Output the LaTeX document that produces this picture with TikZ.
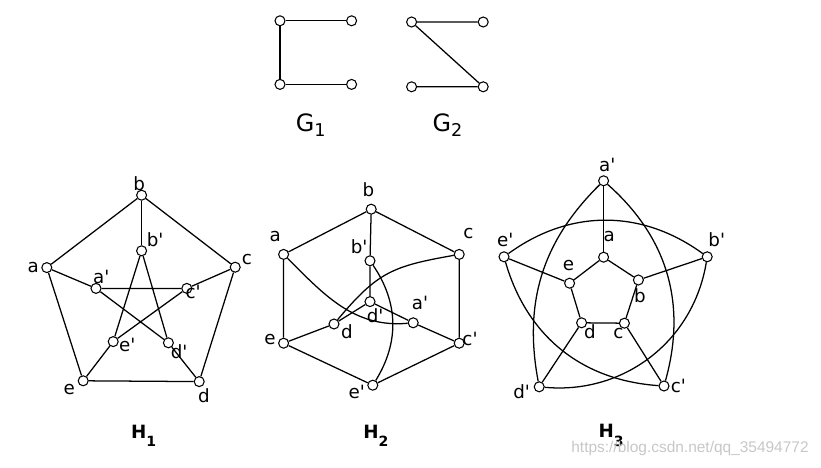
\documentclass[tikz,border=0pt]{standalone}
\usepackage{fontspec}
\setmainfont{DejaVu Sans}[Ligatures=TeXOff]
\newfontfamily\marcafont{Liberation Sans}

\begin{document}
\begin{tikzpicture}[line width=0.9pt,
  v/.style={circle,draw,fill=white,inner sep=0pt,minimum size=2.5mm,line width=0.75pt},
  lbl/.style={inner sep=0pt,font=\fontsize{13}{15}\selectfont},
  titg/.style={inner sep=0pt,anchor=base west,font=\fontsize{17}{20}\selectfont},
  tith/.style={inner sep=0pt,anchor=base west,font=\bfseries\fontsize{13}{15}\selectfont}]
  \useasboundingbox (0,0) rectangle (20.525,-11.7);
  % G1
  \node[v] (p1) at (7.00,-0.52) {};
  \node[v] (p2) at (8.79,-0.52) {};
  \node[v] (p3) at (7.00,-2.11) {};
  \node[v] (p4) at (8.79,-2.11) {};
  \draw (p2)--(p1)--(p3)--(p4);
  \node[titg] (g1) at (7.38,-3.29) {G\raisebox{-3.5pt}{\fontsize{12.5}{14}\selectfont 1}};
  % G2
  \node[v] (q1) at (10.29,-0.55) {};
  \node[v] (q2) at (12.08,-0.55) {};
  \node[v] (q3) at (10.29,-2.17) {};
  \node[v] (q4) at (12.08,-2.17) {};
  \draw (q2)--(q1)--(q4)--(q3);
  \node[titg] (g2) at (10.80,-3.29) {G\raisebox{-3.5pt}{\fontsize{12.5}{14}\selectfont 2}};
  % H1
  \node[v] (h1a) at (1.17,-6.69) {};
  \node[v] (h1b) at (3.54,-4.88) {};
  \node[v] (h1c) at (5.88,-6.68) {};
  \node[v] (h1d) at (4.98,-9.54) {};
  \node[v] (h1e) at (2.08,-9.52) {};
  \node[v] (h1ap) at (2.40,-7.21) {};
  \node[v] (h1bp) at (3.54,-6.27) {};
  \node[v] (h1cp) at (4.67,-7.21) {};
  \node[v] (h1dp) at (4.21,-8.57) {};
  \node[v] (h1ep) at (2.83,-8.54) {};
  \draw (h1a)--(h1b)--(h1c)--(h1d)--(h1e)--(h1a);
  \foreach \x in {a,...,e} \draw (h1\x)--(h1\x p);
  \draw (h1ap)--(h1cp)--(h1ep)--(h1bp)--(h1dp)--(h1ap);
  \node[lbl] (h1la) at (0.83,-6.68) {a};
  \node[lbl] (h1lb) at (3.48,-4.60) {b};
  \node[lbl] (h1lc) at (6.17,-6.48) {c};
  \node[lbl] (h1ld) at (5.10,-9.88) {d};
  \node[lbl] (h1le) at (1.73,-9.75) {e};
  \node[lbl] (h1lap) at (2.53,-6.92) {a'};
  \node[lbl] (h1lbp) at (3.88,-6.00) {b'};
  \node[lbl] (h1lcp) at (4.83,-7.29) {c'};
  \node[lbl] (h1ldp) at (4.48,-8.79) {d'};
  \node[lbl] (h1lep) at (3.18,-8.63) {e'};
  \node[tith] (t1) at (3.26,-10.96) {H\raisebox{-6pt}{\fontsize{10}{12}\selectfont 1}};
  % H2
  \node[v] (h2a) at (7.09,-6.36) {};
  \node[v] (h2b) at (9.28,-5.23) {};
  \node[v] (h2c) at (11.48,-6.36) {};
  \node[v] (h2d) at (8.35,-8.10) {};
  \node[v] (h2e) at (7.09,-8.58) {};
  \node[v] (h2ap) at (10.33,-8.07) {};
  \node[v] (h2bp) at (9.25,-6.52) {};
  \node[v] (h2cp) at (11.48,-8.58) {};
  \node[v] (h2dp) at (9.25,-7.54) {};
  \node[v] (h2ep) at (9.32,-9.63) {};
  \draw (h2a)--(h2b)--(h2c)--(h2cp)--(h2ep)--(h2e)--(h2a);
  \draw (h2b)--(h2bp)--(h2dp)--(h2d)--(h2e);
  \draw (h2dp)--(h2ap)--(h2cp);
  \draw (h2a) to[out=-45,in=185] (h2ap);
  \draw (h2c) to[out=190,in=50,looseness=1.2] (h2d);
  \draw (h2ep) to[bend right=33] (h2bp);
  \node[lbl] (h2la) at (6.88,-5.92) {a};
  \node[lbl] (h2lb) at (9.21,-4.75) {b};
  \node[lbl] (h2lc) at (11.71,-5.83) {c};
  \node[lbl] (h2ld) at (8.67,-8.29) {d};
  \node[lbl] (h2le) at (6.75,-8.50) {e};
  \node[lbl] (h2lap) at (10.50,-7.58) {a'};
  \node[lbl] (h2lbp) at (8.98,-6.17) {b'};
  \node[lbl] (h2lcp) at (11.75,-8.48) {c'};
  \node[lbl] (h2ldp) at (9.38,-7.88) {d'};
  \node[lbl] (h2lep) at (8.92,-9.79) {e'};
  \node[tith] (t2) at (9.07,-10.96) {H\raisebox{-6pt}{\fontsize{10}{12}\selectfont 2}};
  % H3
  \node[v] (h3a) at (15.09,-6.43) {};
  \node[v] (h3b) at (15.96,-7.00) {};
  \node[v] (h3c) at (15.61,-8.08) {};
  \node[v] (h3d) at (14.54,-8.07) {};
  \node[v] (h3e) at (14.24,-7.08) {};
  \node[v] (h3ap) at (15.09,-4.52) {};
  \node[v] (h3bp) at (17.68,-6.42) {};
  \node[v] (h3cp) at (16.60,-9.65) {};
  \node[v] (h3dp) at (13.48,-9.67) {};
  \node[v] (h3ep) at (12.60,-6.42) {};
  \draw (h3a)--(h3b)--(h3c)--(h3d)--(h3e)--(h3a);
  \foreach \x in {a,...,e} \draw (h3\x)--(h3\x p);
  \draw (h3ap) to[bend left=32] (h3cp);
  \draw (h3ap) to[bend right=28] (h3dp);
  \draw (h3ep) to[bend left=36] (h3bp);
  \draw (h3ep) to[bend right=35] (h3cp);
  \draw (h3bp) to[bend left=43] (h3dp);
  \node[lbl] (h3la) at (15.23,-5.92) {a};
  \node[lbl] (h3lb) at (16.00,-7.38) {b};
  \node[lbl] (h3lc) at (15.46,-8.35) {c};
  \node[lbl] (h3ld) at (14.75,-8.29) {d};
  \node[lbl] (h3le) at (14.21,-6.65) {e};
  \node[lbl] (h3lap) at (15.18,-4.13) {a'};
  \node[lbl] (h3lbp) at (17.92,-5.98) {b'};
  \node[lbl] (h3lcp) at (16.96,-9.65) {c'};
  \node[lbl] (h3ldp) at (13.04,-9.79) {d'};
  \node[lbl] (h3lep) at (12.63,-6.00) {e'};
  \node[tith] (t3) at (14.95,-10.94) {H\raisebox{-6pt}{\fontsize{10}{12}\selectfont 3}};
  % marca
  \node[text=black!22,font=\marcafont\fontsize{11}{13}\selectfont] (marca) at (17.25,-11.22) {https://blog.csdn.net/qq\_35494772};
\end{tikzpicture}
\end{document}
